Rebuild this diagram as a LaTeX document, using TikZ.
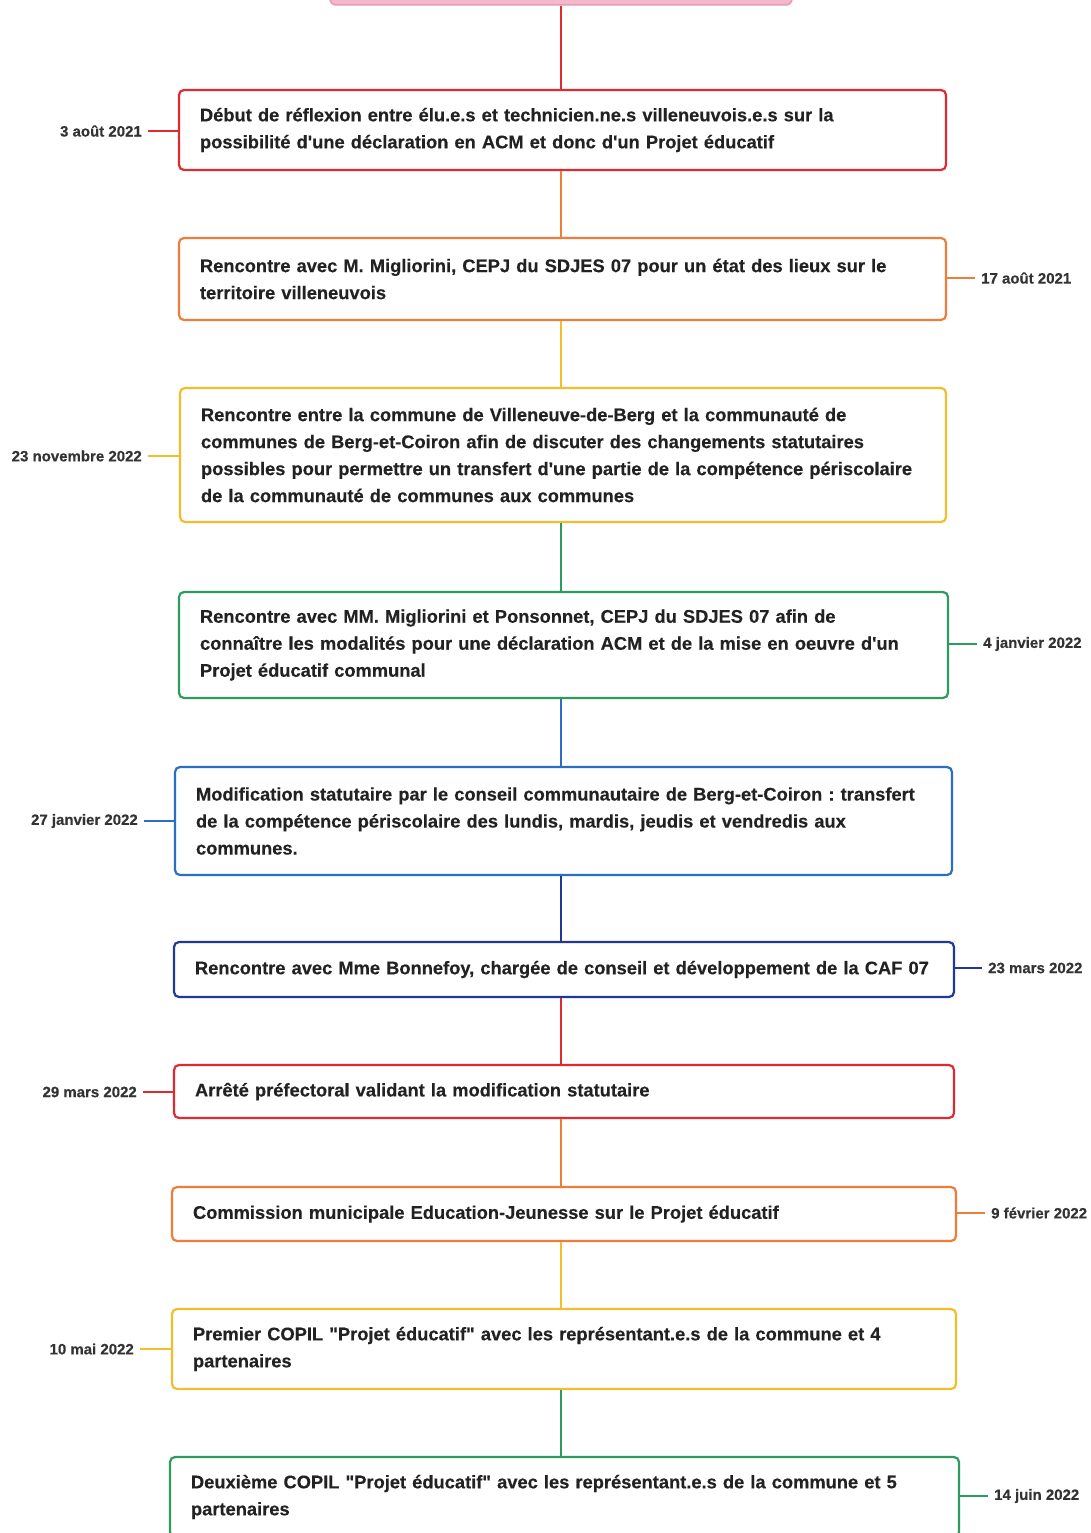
\documentclass[tikz,border=0pt]{standalone}
\usepackage{fontspec}
\setmainfont{Liberation Sans}[FakeBold=0.3, Ligatures=TeXOff]
\definecolor{cred}{HTML}{DF2A2F}
\definecolor{corange}{HTML}{EE7D3C}
\definecolor{cyellow}{HTML}{F2BF2C}
\definecolor{cgreen}{HTML}{2F9A5F}
\definecolor{cblue}{HTML}{2B6FC4}
\definecolor{cnavy}{HTML}{203896}
\definecolor{cpink}{HTML}{F4B7CC}
\definecolor{cpinkd}{HTML}{E59AB6}
\definecolor{ctext}{HTML}{222222}
\definecolor{clabel}{HTML}{333333}
\tikzset{
  evbox/.style={draw=#1, line width=2.2pt, rounded corners=5pt, fill=white,
    rectangle, inner xsep=21pt, inner ysep=0pt, align=left, text=ctext,
    font=\fontsize{18.3}{27}\selectfont\bfseries\frenchspacing},
  datelab/.style={inner sep=0pt, text=clabel, font=\fontsize{15}{18}\selectfont\bfseries},
  link/.style={draw=#1, line width=2.4pt},
  tick/.style={draw=#1, line width=1.8pt},
}
\begin{document}
\begin{tikzpicture}[x=1pt,y=-1pt]
\useasboundingbox (0,0) rectangle (1090,1533);
\clip (0,0) rectangle (1090,1533);
\fill[white] (0,0) rectangle (1090,1533);
\coordinate (spine) at (561,0);

% top pink box (cut off)
\node[draw=cpinkd, fill=cpink, line width=1.5pt, rounded corners=6pt, minimum width=462pt, minimum height=40pt, inner sep=0pt] (b0) at (561,-15) {};

\node[evbox=cred, minimum width=767pt, minimum height=80pt, text width=725pt] (b1) at (562.5,130)
 {Début de réflexion entre élu.e.s et technicien.ne.s villeneuvois.e.s sur la\\possibilité d'une déclaration en ACM et donc d'un Projet éducatif};
\node[evbox=corange, minimum width=767pt, minimum height=82pt, text width=725pt] (b2) at (562.5,279)
 {Rencontre avec M. Migliorini, CEPJ du SDJES 07 pour un état des lieux sur le\\territoire villeneuvois};
\node[evbox=cyellow, minimum width=766pt, minimum height=134pt, text width=724pt] (b3) at (563,455)
 {Rencontre entre la commune de Villeneuve-de-Berg et la communauté de\\communes de Berg-et-Coiron afin de discuter des changements statutaires\\possibles pour permettre un transfert d'une partie de la compétence périscolaire\\de la communauté de communes aux communes};
\node[evbox=cgreen, minimum width=769pt, minimum height=106pt, text width=727pt] (b4) at (563.5,645)
 {Rencontre avec MM. Migliorini et Ponsonnet, CEPJ du SDJES 07 afin de\\connaître les modalités pour une déclaration ACM et de la mise en oeuvre d'un\\Projet éducatif communal};
\node[evbox=cblue, minimum width=777pt, minimum height=108pt, text width=735pt] (b5) at (563.5,821)
 {Modification statutaire par le conseil communautaire de Berg-et-Coiron : transfert\\de la compétence périscolaire des lundis, mardis, jeudis et vendredis aux\\communes.};
\node[evbox=cnavy, minimum width=780pt, minimum height=55pt, text width=738pt] (b6) at (564,969.5)
 {Rencontre avec Mme Bonnefoy, chargée de conseil et développement de la CAF 07};
\node[evbox=cred, minimum width=780pt, minimum height=53pt, text width=738pt] (b7) at (564,1091.5)
 {Arrêté préfectoral validant la modification statutaire};
\node[evbox=corange, minimum width=784pt, minimum height=54pt, text width=742pt] (b8) at (564,1214)
 {Commission municipale Education-Jeunesse sur le Projet éducatif};
\node[evbox=cyellow, minimum width=784pt, minimum height=80pt, text width=742pt] (b9) at (564,1349)
 {Premier COPIL "Projet éducatif" avec les représentant.e.s de la commune et 4\\partenaires};
\node[evbox=cgreen, minimum width=789pt, minimum height=80pt, text width=747pt] (b10) at (564.5,1497)
 {Deuxième COPIL "Projet éducatif" avec les représentant.e.s de la commune et 5\\partenaires};

% spine connectors (colour of the lower box)
\draw[link=cred]    (b0.south -| spine) -- (b1.north -| spine);
\draw[link=corange] (b1.south -| spine) -- (b2.north -| spine);
\draw[link=cyellow] (b2.south -| spine) -- (b3.north -| spine);
\draw[link=cgreen]  (b3.south -| spine) -- (b4.north -| spine);
\draw[link=cblue]   (b4.south -| spine) -- (b5.north -| spine);
\draw[link=cnavy]   (b5.south -| spine) -- (b6.north -| spine);
\draw[link=cred]    (b6.south -| spine) -- (b7.north -| spine);
\draw[link=corange] (b7.south -| spine) -- (b8.north -| spine);
\draw[link=cyellow] (b8.south -| spine) -- (b9.north -| spine);
\draw[link=cgreen]  (b9.south -| spine) -- (b10.north -| spine);

% date labels
\node[datelab, anchor=east] (l1) at (142,131) {3 août 2021};
\node[datelab, anchor=west] (l2) at (981,278) {17 août 2021};
\node[datelab, anchor=east] (l3) at (142,456) {23 novembre 2022};
\node[datelab, anchor=west] (l4) at (983,644) {4 janvier 2022};
\node[datelab, anchor=east] (l5) at (138,821) {27 janvier 2022};
\node[datelab, anchor=west] (l6) at (988,968) {23 mars 2022};
\node[datelab, anchor=east] (l7) at (137,1092) {29 mars 2022};
\node[datelab, anchor=west] (l8) at (991,1213) {9 février 2022};
\node[datelab, anchor=east] (l9) at (134,1349) {10 mai 2022};
\node[datelab, anchor=west] (l10) at (994,1496) {14 juin 2022};

\draw[tick=cred]    ([xshift=6pt]l1.east) -- (l1.east -| b1.west);
\draw[tick=corange] ([xshift=-6pt]l2.west) -- (l2.west -| b2.east);
\draw[tick=cyellow] ([xshift=6pt]l3.east) -- (l3.east -| b3.west);
\draw[tick=cgreen]  ([xshift=-6pt]l4.west) -- (l4.west -| b4.east);
\draw[tick=cblue]   ([xshift=6pt]l5.east) -- (l5.east -| b5.west);
\draw[tick=cnavy]   ([xshift=-6pt]l6.west) -- (l6.west -| b6.east);
\draw[tick=cred]    ([xshift=6pt]l7.east) -- (l7.east -| b7.west);
\draw[tick=corange] ([xshift=-6pt]l8.west) -- (l8.west -| b8.east);
\draw[tick=cyellow] ([xshift=6pt]l9.east) -- (l9.east -| b9.west);
\draw[tick=cgreen]  ([xshift=-6pt]l10.west) -- (l10.west -| b10.east);
\end{tikzpicture}
\end{document}
